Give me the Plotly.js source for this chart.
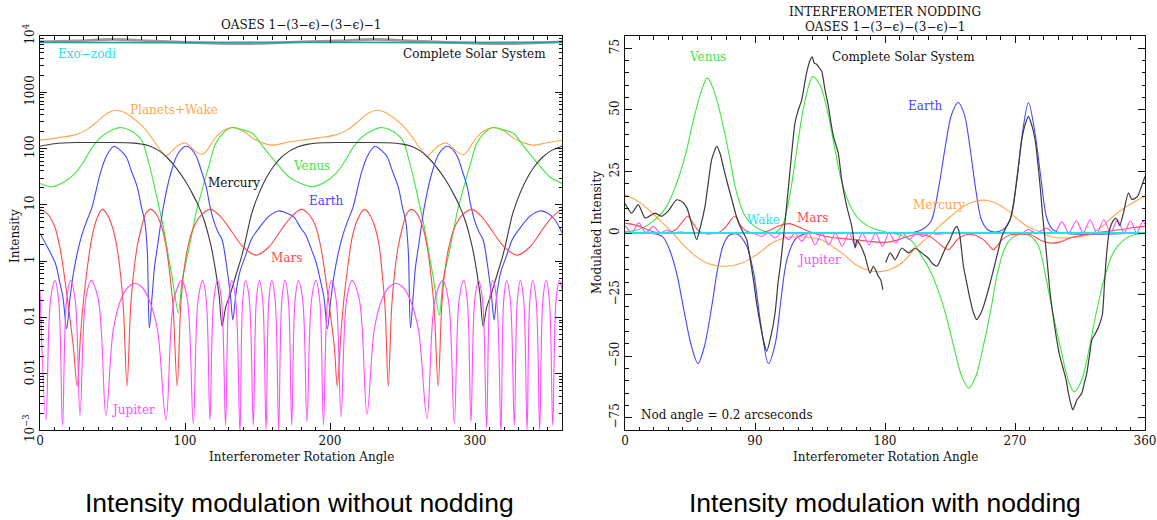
<!DOCTYPE html>
<html>
<head>
<meta charset="utf-8">
<script src="https://cdn.plot.ly/plotly-3.0.1.min.js"></script>
<style>html,body{margin:0;padding:0;background:#fff;} #chart{width:1157px;height:520px;}</style>
</head>
<body>
<div id="chart"></div>
<script>
// ---------------- LEFT PANEL (no nodding, log intensity) ----------------
const completeLX = [0,25,50,75,100,140,165,180,205,230,255,280,320,345,360];
const completeLY = [7900,8200,8700,8200,7700,7300,7600,7900,8200,8700,8200,7700,7300,7600,7900];
const exoLX = [0,90,180,270,360];
const exoLY = [7700,7650,7700,7650,7700];

const planetsLX = [0,12,24,32,40,46,52,58,64,70,76,81,84.5,87,90.5,95,99.7,103,107,112,116,120,126,132.6,140,147,154,160,170,180,
  192,204,212,220,226,232.5,238,244,250,256,261,264.5,267,270.5,275,279.7,283,287,292,296,300,306,312.6,320,327,334,340,350,360];
const planetsLY = [141,155,175,215,310,420,480,440,350,260,170,110,85,74,88,112,126,114,90,79,100,145,205,236,205,151,125,115,128,141,
  155,175,215,310,420,480,440,350,260,170,110,85,72,88,112,126,114,90,78,100,145,205,236,205,151,125,115,128,141];

const venusLX = [0,8,16,24,30,36,42,49,55,62,70,74,77,80,85,88,91.5,95.4,98,100.5,103,108,113,117,121,126,132.6,140,146.7,153,159.5,166,172,180,188,
  196,204,210,216,222,229,235,242,250,254,257,260,265,268,271.5,275.4,278,280.5,283,288,293,297,301,306,312.6,320,326.7,333,339.5,346,352,360];
const venusLY = [24,21,25,36,58,105,160,210,236,212,141,70,35,16,4.1,1.5,0.46,0.12,0.46,0.9,1.8,8,24,55,120,185,236,215,185,115,71,45,31,24,21,
  25,36,58,105,160,210,236,212,141,70,35,16,4.1,1.5,0.46,0.11,0.46,0.9,1.8,8,24,55,120,185,236,215,185,115,71,45,31,24];

const mercuryLX = [0,10,25,45,65,75,82,88,94,100,105,109,113,116,118.5,121,123.5,125.6,128,131,135,139,142,146,151,156,161,166,172,178,
  185,195,215,240,250,256,262,268,274,280,285,289,293,296,298.5,301,303.5,305.6,308,311,315,319,322,326,331,336,341,346,352,360];
const mercuryLY = [110,122,128,128,125,112,92,68,45,27,16,10,5.5,3,1.6,0.7,0.25,0.07,0.15,0.25,0.55,1.2,2.5,7,16,30,48,68,90,108,
  120,127,128,127,120,110,92,68,45,27,16,10,5.5,3,1.6,0.7,0.25,0.07,0.15,0.25,0.55,1.2,2.5,7,16,30,48,68,90,110];

const earthLX = [0,5,10.7,13,15.8,18.4,20.5,23,26,29,32,36,41.5,46,51,56,59.5,63,67,70,72.3,74,75.4,77.4,79,81,85,90,95,100.5,104,108,111,114.6,117,119.7,122.5,125.6,128,130,131.5,133,135,137.5,141.5,146,151.8,158,164.6,170,175,
  180,183,186.5,190.7,193,195.8,198.2,200.5,203,206,209,212,216,221.5,226,231,236,239.5,243,247,250,252.3,254,255.5,257.4,259,261,265,270,275,280.5,284,288,291,294.6,297,299.7,302.5,305.6,308,310,311.5,313.2,315,317.5,321.5,326,331.8,338,344.6,350,355,360];
const earthLY = [3.1,1.8,0.9,0.5,0.23,0.063,0.2,0.6,1.5,3,5,9.3,36,75,110,90,71,40,21,9,5,1.5,0.065,0.25,0.8,1.8,9,35,80,110,100,71,42,21,10,5.3,3.4,2.4,1.1,0.46,0.22,0.09,0.25,0.6,1.2,2.5,4.1,6.3,7.8,7.2,6.1,
  3.8,3,1.8,0.9,0.5,0.23,0.063,0.2,0.6,1.5,3,5,9.3,36,75,110,90,71,40,21,9,5,1.5,0.065,0.25,0.8,1.8,9,35,80,110,100,71,42,21,10,5.3,3.4,2.4,1.1,0.46,0.22,0.09,0.25,0.6,1.2,2.5,4.1,6.3,7.8,7.2,5.5,3.2];

const marsLX = [0,5,10,14,17,20,23,25.6,28,30,33,36,39,42.8,46,50,53,55.5,57.5,60,62.5,64.5,67,70,73,76,80,84,87,89.5,91.8,94.6,97,99,102,106,111,117.7,125,132,140,149,158,166,173,
  180,185,190,194,197,200,203,205,207.5,209.5,212.5,215.5,219,223.6,227,231,234,236,238,240.2,242.5,244.5,247,250,253,256,260,264,267,269.5,271.8,274.6,277,279,282,286,291,298,305,312,320,329,338,346,353,360];
const marsLY = [8.3,7,4.2,1.6,0.5,0.13,0.03,0.006,0.05,0.2,0.9,2.8,5.5,8.3,7,4,1.8,0.6,0.15,0.006,0.15,0.6,1.8,4,7,8.3,7,4,1.8,0.6,0.15,0.006,0.15,0.6,1.8,4,6.5,8.3,6,3.4,1.8,1.28,1.8,3.5,6,
  8.3,7,4.2,1.6,0.5,0.13,0.03,0.006,0.05,0.2,0.9,2.8,5.5,8.3,7,4,1.8,0.6,0.15,0.006,0.15,0.6,1.8,4,7,8.3,7,4,1.8,0.6,0.15,0.006,0.15,0.6,1.8,4,6.5,8.3,6,3.4,1.8,1.28,1.8,3.5,6,8.3];

const jupiterLX = [0,4.1,7.2,10.3,12.9,15.5,18.3,21.1,24.3,27.6,31.4,35.2,40.3,45.5,50.5,55.5,60.5,65.5,70.5,75.5,81,86.9,92.3,97.7,101.7,105.7,109,112.2,114.7,117.2,119.8,122.5,125.2,128,130.1,132.2,135,137.9,139.8,141.8,144.4,147.1,149.2,151.3,153.6,155.9,157.8,159.8,162.2,164.6,166.8,169,171.3,173.6,175.9,178.2,181.2,
  184.1,187.2,190.3,192.9,195.5,198.3,201.1,204.3,207.6,211.4,215.2,220.3,225.5,230.5,235.5,240.5,245.5,250.5,255.5,261,266.9,272.3,277.7,281.7,285.7,289,292.2,294.7,297.2,299.8,302.5,305.2,308,310.1,312.2,315,317.9,319.8,321.8,324.4,327.1,329.2,331.3,333.6,335.9,337.8,339.8,342.2,344.6,346.8,349,351.3,353.6,355.9,358.2,360];
const jupiterLY = [0.3,0.0015,0.2,0.45,0.2,0.0012,0.2,0.45,0.2,0.0018,0.2,0.45,0.2,0.0018,0.06,0.2,0.34,0.4,0.34,0.2,0.06,0.0015,0.2,0.45,0.2,0.0013,0.2,0.45,0.2,0.0015,0.2,0.45,0.2,0.0012,0.2,0.45,0.2,0.0009,0.2,0.45,0.2,0.0012,0.2,0.45,0.2,0.001,0.2,0.45,0.2,0.001,0.2,0.45,0.2,0.0012,0.2,0.45,0.2,
  0.0014,0.2,0.45,0.2,0.0012,0.2,0.45,0.2,0.0017,0.2,0.45,0.2,0.0019,0.06,0.2,0.34,0.4,0.34,0.2,0.06,0.0016,0.2,0.45,0.2,0.0013,0.2,0.45,0.2,0.0014,0.2,0.45,0.2,0.0011,0.2,0.45,0.2,0.0009,0.2,0.45,0.2,0.0012,0.2,0.45,0.2,0.001,0.2,0.45,0.2,0.001,0.2,0.45,0.2,0.0012,0.2,0.45,0.32];

const logTickVals = [0.001,0.01,0.1,1,10,100,1000,10000];
const logTickText = ['10<sup>−3</sup>','0.01','0.1','1','10','100','1000','10<sup>4</sup>'];
const xTicksL = [0,100,200,300];

// ---------------- RIGHT PANEL (nodding, modulated intensity) ----------------
const venusRX = [0,10,20,28,35,42,47,52,57,62,67,72,77,83,90,98,104,109,114,119,124,130,135,140,145,150,156,163,172,182,190,198,205,211,216,222,228,233,238,243,248,253,258,263,268,274,280,286,291,296,302,307,311,316,321,326,332,338,345,352,360];
const venusRY = [0.5,1.5,5,10,19,32,45,56,63,57,46,32,17,7,2.5,0.5,0.3,3,15,34,52,63.5,60,50,35,21,11,5,1.8,0.2,-0.8,-3,-9,-15,-22,-33,-47,-58,-63,-58,-46,-32,-16,-6,-2,-0.5,-1,-5,-17,-32,-48,-60,-64.5,-60,-48,-33,-18,-8,-3,-0.8,-0.2];

const earthRX = [0,20,26,31,36,41,46,50.5,55,60,64,68,72,78,84,89,94,99.3,104,108,112,118,125,150,200,206,212,217,222,226,230.7,235,239,243,247,252,258,263,267,271,275,279.3,284,288,292,296,302,360];
const earthRY = [0,-0.3,-1.5,-7,-17,-32,-46,-53,-46,-30,-15,-5,-1,-0.5,-5,-16,-37,-53,-45,-27,-11,-2.5,-0.3,0,0.3,1.5,5,18,36,48,53,48,34,17,5,1,0.5,2,6,20,40,53,40,22,6,1.5,0,0];

const mercuryRX = [0,10,20,27,33,40,48,58,70,82,93,102,110,120,130,137,145,152,160,170,178,185,192,200,206,212,218,225,234,242,250,258,265,272,279,287,295,305,315,322,330,338,346,352,360];
const mercuryRY = [15.5,12.5,7.5,3.5,0,-4.5,-9,-12.5,-13.5,-12,-8,-4,-2,-1.5,-2,-3,-6,-9,-13,-15.3,-15.6,-14.5,-12,-7,-3.5,-0.5,3,6.5,10.8,12.8,13.3,11.8,9.2,5.5,2.5,0.5,-1.5,-2,-1.5,-0.5,2.5,6.8,10.2,12.5,15];

const marsRX = [0,6,12,17,22,30,35,39,43.5,47,51,56,62,66,70,76,80,84,89,95,100,105,110,114,120,127,133,139,150,162,171,180,189,196,203,211,216,220,224,227,230,236,243,248,252,255,258,261,267,275,281,287,295,302,308,316,325,335,345,352,360];
const marsRY = [4,3.4,2.2,1,0.2,0.3,1.2,4,6.8,4,0.8,-0.3,-0.2,0.5,2.7,6.8,3,0.8,0,0.2,1,2.5,3.5,3.8,2.5,0.7,-0.5,-1.4,-2.2,-2.9,-3.5,-3.8,-2.8,-1.3,-0.6,-1.4,-3.5,-5.5,-6.8,-5,-2.7,-0.7,-1,-2.7,-5,-6.8,-5,-2.7,-0.7,-0.5,-0.7,-2.7,-4.1,-3.5,-2,-1,0,0.8,1.5,2.2,2.7];

const jupiterRX = [0,4.7,9.5,14.5,19.5,24.5,29,34,38.5,43,60,80,90,94.5,99,103.8,108.5,113.1,117.8,122.4,127,131.7,136.3,141,145.7,150.3,155,159.6,164.3,168.9,173.5,178.2,182.8,187.5,192.1,196.8,201.5,206,211,215,225,250,270,275,279,285,292,297.2,302.5,307.2,312.5,317.2,322,326.7,331.5,336.2,341,345.5,350,354.2,358.5,360];
const jupiterRY = [3,0.2,4.1,0,2.7,0,1.2,0,0.5,0,0,0,-0.3,-1.4,0,-2,0,-2.7,0,-3.4,0,-4.8,0,-4.8,0,-5.4,0,-5.4,0,-4.8,0,-5.4,0,-4.1,0,-2.7,0,-1.4,0,-0.5,0,0,0,0,1.4,0,2,0,4.5,0,5,0,5.4,0,5.4,0,5.4,0,5,0,4.8,3.5];

const wakeRX = [0,90,180,270,360];
const wakeRY = [0,0,0,0,0];

const completeRX = [0,4.6,9.2,13.9,20.8,25.4,30,35.8,40,43,46,49.6,52,55.4,58,60,63.5,66,68,71,74,77,79.7,82,84.3,86.5,88.9,91,93.5,96,98.1,101,103.9,106,107.5,110,113,115.5,117.7,120,122.3,125.7,128,129.7,131,132.7,134.5,136.2,138.5,140.8,142.5,144.3,147.6,150,153.5,157,159.3,160.5,162.7,166.2,169.6,171.9,173.5,175.4,177,178.5,
  179.6,
  180.5,183.6,187,191.6,196.3,200.8,205.5,210,213,216,219,222,225,228,229.7,231.5,234.3,236.5,238.9,241,243.5,246,248.2,252.8,257.4,260.9,264,266.6,269,271.2,273,274.7,277,279.3,281.5,283.9,287.4,289,290.8,292.5,294.3,296.5,298.9,301,303.6,305.5,307,308.5,310,311.5,312.8,314.5,316.3,318,319.7,321.5,323.2,325.5,328,330.5,332,333.5,335.5,338,340,342.5,345,348.5,351,354.9,357,360];
const completeRY = [12,8.1,11.5,6.1,8.1,6.8,9,13.5,12.5,10,4,-2.7,2,10.8,22,29.8,35.2,32,27,20,13.5,7,2.7,0,-2.7,-10,-19,-28,-36.6,-44,-48,-42,-32.5,-20,-13.5,0,17.6,33,44.7,50,54,65,70,71.5,69,68.5,67,65.7,58,51.5,45,39.3,32.5,21.7,10.8,2.7,-6.1,-3,-4.7,-9.5,-16.3,-13.5,-15,-17.6,-19,-23,
  null,
  -12,-8.1,-10.8,-6.1,-8.1,-6.1,-8.1,-10.2,-12.5,-13.5,-10,-6,-2.7,1.5,2.7,0,-13.5,-20,-27,-32,-35.2,-33,-29.8,-20.3,-9.5,-1.4,2.5,5.4,12,21.7,30,37.9,44,47.4,44,37.9,19,8,-2.7,-13,-24.4,-34,-43.4,-50,-55.6,-60,-65,-69,-71.8,-70,-67.8,-66.5,-65,-61,-57,-50,-43.4,-41,-38,-33,-20,-8,1.5,5,6,3,8,16.3,13.6,14.9,18,23];

const xTicksR = [0,90,180,270,360];
const yTicksR = [-75,-50,-25,0,25,50,75];

// ---------------- colours / fonts ----------------
const C = {green:'#3ee63e', blue:'#4646ff', red:'#ff4a4a', orange:'#ffa64d', magenta:'#ff4dff', cyan:'#19e6e6', black:'#3a3a3a', gray:'#9a9a9a', teal:'#1fa3a3'};
const SERIF = 'DejaVu Serif, Liberation Serif, serif';

function tr(x, y, color, xa, ya, width, smooth) {
  return {x:x, y:y, type:'scatter', mode:'lines', xaxis:xa, yaxis:ya, hoverinfo:'skip', connectgaps:false,
          line:{color:color, width:width||1.1, shape:'spline', smoothing:(smooth===undefined?0.9:smooth)}};
}

const traces = [
  tr(completeLX, completeLY, C.gray, 'x', 'y', 2.6),
  tr(exoLX, exoLY, C.teal, 'x', 'y', 1.8),
  tr(planetsLX, planetsLY, C.orange, 'x', 'y'),
  tr(venusLX, venusLY, C.green, 'x', 'y'),
  tr(mercuryLX, mercuryLY, C.black, 'x', 'y'),
  tr(earthLX, earthLY, C.blue, 'x', 'y'),
  tr(marsLX, marsLY, C.red, 'x', 'y'),
  tr(jupiterLX, jupiterLY, C.magenta, 'x', 'y', 1.1, 1.0),

  tr(venusRX, venusRY, C.green, 'x2', 'y2'),
  tr(earthRX, earthRY, C.blue, 'x2', 'y2'),
  tr(mercuryRX, mercuryRY, C.orange, 'x2', 'y2'),
  tr(marsRX, marsRY, C.red, 'x2', 'y2'),
  tr(jupiterRX, jupiterRY, C.magenta, 'x2', 'y2', 1.1, 0.8),
  tr(wakeRX, wakeRY, C.cyan, 'x2', 'y2', 1.8),
  tr(completeRX, completeRY, C.black, 'x2', 'y2', 1.2, 0.6)
];

const minorLog = [];
for (let e = -3; e < 4; e++) { for (let d = 2; d <= 9; d++) { minorLog.push(d * Math.pow(10, e)); } }

const tickFont = {family:SERIF, size:12, color:'#111'};
const axBase = {
  ticks:'inside', ticklen:7, tickwidth:1, tickcolor:'#111', showline:true, linecolor:'#111', linewidth:1,
  mirror:'allticks', showgrid:false, zeroline:false, tickfont:tickFont, fixedrange:true
};

// frame pixel geometry (paper = full 1157x520 image, margins 0)
const W = 1157, H = 520;
const Lx0 = 40, Lx1 = 562, Rx0 = 625, Rx1 = 1145, Ty = 36, By = 430;
const domY = [1 - By / H, 1 - Ty / H];

function ann(text, x, y, color, xref, yref, opts) {
  return Object.assign({text:text, x:x, y:y, xref:xref, yref:yref, showarrow:false,
    font:{family:SERIF, size:12, color:color}, xanchor:'center', yanchor:'middle'}, opts || {});
}
const L = Math.log10;
const pxX = p => p / W, pxY = p => 1 - p / H;
const capFont = {family:'Liberation Sans, Arial, sans-serif', size:26.5, color:'#000'};

const annotations = [
  // left panel labels
  ann('OASES 1−(3−ϵ)−(3−ϵ)−1', pxX((Lx0 + Lx1) / 2), pxY(25), '#111', 'paper', 'paper'),
  ann('Exo−zodi', 10.7, L(4880), C.cyan, 'x', 'y', {xanchor:'left'}),
  ann('Complete Solar System', 350, L(4880), '#111', 'x', 'y', {xanchor:'right'}),
  ann('Planets+Wake', 60.5, L(479), C.orange, 'x', 'y', {xanchor:'left'}),
  ann('Venus', 187, L(48.6), C.green, 'x', 'y'),
  ann('Mercury', 133.8, L(24), '#111', 'x', 'y'),
  ann('Earth', 197.3, L(11.8), C.blue, 'x', 'y'),
  ann('Mars', 169.8, L(1.16), C.red, 'x', 'y'),
  ann('Jupiter', 64.3, L(0.0023), C.magenta, 'x', 'y'),
  ann('Interferometer Rotation Angle', pxX((Lx0 + Lx1) / 2), pxY(457), '#111', 'paper', 'paper'),
  ann('Intensity', pxX(15), pxY(236), '#111', 'paper', 'paper', {textangle:-90}),
  // right panel labels
  ann('INTERFEROMETER NODDING', pxX((Rx0 + Rx1) / 2), pxY(12), '#111', 'paper', 'paper'),
  ann('OASES 1−(3−ϵ)−(3−ϵ)−1', pxX((Rx0 + Rx1) / 2), pxY(27), '#111', 'paper', 'paper'),
  ann('Venus', 56.8, 71.3, C.green, 'x2', 'y2'),
  ann('Complete Solar System', 192.6, 71.3, '#111', 'x2', 'y2'),
  ann('Earth', 207.4, 51.6, C.blue, 'x2', 'y2'),
  ann('Mercury', 217.3, 11.5, C.orange, 'x2', 'y2'),
  ann('Wake', 96, 5.4, C.cyan, 'x2', 'y2'),
  ann('Mars', 130, 6.1, C.red, 'x2', 'y2'),
  ann('Jupiter', 134.3, -10.9, C.magenta, 'x2', 'y2'),
  ann('Nod angle = 0.2 arcseconds', 9.7, -73.8, '#111', 'x2', 'y2', {xanchor:'left'}),
  ann('Interferometer Rotation Angle', pxX((Rx0 + Rx1) / 2), pxY(457), '#111', 'paper', 'paper'),
  ann('Modulated Intensity', pxX(597), pxY(233), '#111', 'paper', 'paper', {textangle:-90}),
  // captions
  ann('Intensity modulation without nodding', pxX(299), pxY(503), '#000', 'paper', 'paper', {font:capFont}),
  ann('Intensity modulation with nodding', pxX(885), pxY(503), '#000', 'paper', 'paper', {font:capFont})
];

const layout = {
  width:W, height:H, margin:{l:0, r:0, t:0, b:0}, paper_bgcolor:'#fff', plot_bgcolor:'#fff', showlegend:false,
  xaxis: Object.assign({}, axBase, {domain:[Lx0 / W, Lx1 / W], range:[0, 360], anchor:'y', tickmode:'array', tickvals:xTicksL,
          minor:{dtick:10, tick0:0, ticks:'inside', ticklen:3.5, tickcolor:'#111'}}),
  yaxis: Object.assign({}, axBase, {domain:domY, type:'log', range:[-3, 4], anchor:'x', tickmode:'array', tickvals:logTickVals,
          ticktext:logTickText, tickangle:-90, minor:{tickmode:'array', tickvals:minorLog, ticks:'inside', ticklen:3.5, tickcolor:'#111'}}),
  xaxis2: Object.assign({}, axBase, {domain:[Rx0 / W, Rx1 / W], range:[0, 360], anchor:'y2', tickmode:'array', tickvals:xTicksR,
          minor:{dtick:10, tick0:0, ticks:'inside', ticklen:3.5, tickcolor:'#111'}}),
  yaxis2: Object.assign({}, axBase, {domain:domY, range:[-80, 80], anchor:'x2', tickmode:'array', tickvals:yTicksR, tickangle:-90,
          minor:{dtick:5, tick0:0, ticks:'inside', ticklen:3.5, tickcolor:'#111'}}),
  annotations: annotations
};

Plotly.newPlot('chart', traces, layout, {staticPlot:true, displayModeBar:false});
</script>
</body>
</html>
